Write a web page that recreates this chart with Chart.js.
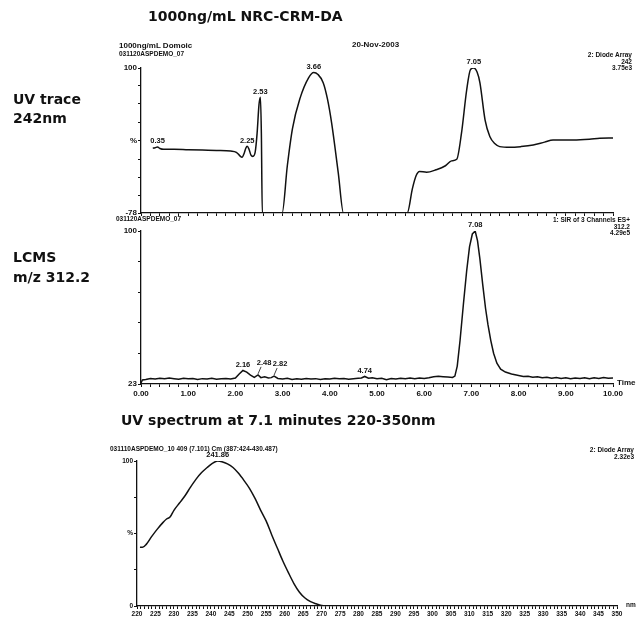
<!DOCTYPE html>
<html>
<head>
<meta charset="utf-8">
<script src="https://cdn.jsdelivr.net/npm/chart.js@4.4.1/dist/chart.umd.min.js"></script>
<style>
  body { margin: 0; background: #fff; }
  #page { position: relative; width: 638px; height: 620px; overflow: hidden; color: #111;
          font-family: "Liberation Sans", Arial, sans-serif; }
  #page canvas { position: absolute; left: 0; top: 0; }
  .t { position: absolute; white-space: nowrap; line-height: 1; }
  .big { font-family: "DejaVu Sans", sans-serif; font-weight: bold; font-size: 14px; }
  .sm { font-size: 8px; font-weight: bold; }
  .xs { font-size: 6.5px; font-weight: bold; }
  .r { text-align: right; }
</style>
</head>
<body>
<div id="page">
  <canvas id="uvTrace" width="638" height="620"></canvas>
  <canvas id="lcms" width="638" height="620"></canvas>
  <canvas id="spectrum" width="638" height="620"></canvas>

  <div class="t big" style="left:148px; top:9px;">1000ng/mL NRC-CRM-DA</div>
  <div class="t big" style="left:13px; top:92px;">UV trace</div>
  <div class="t big" style="left:13px; top:111px;">242nm</div>
  <div class="t big" style="left:13px; top:250px;">LCMS</div>
  <div class="t big" style="left:13px; top:270px;">m/z 312.2</div>
  <div class="t big" style="left:121px; top:413px;">UV spectrum at 7.1 minutes 220-350nm</div>

  <!-- header of the UV trace -->
  <div class="t sm" style="left:119px; top:42px;">1000ng/mL Domoic</div>
  <div class="t xs" style="left:119px; top:51px;">031120ASPDEMO_07</div>
  <div class="t sm" style="left:352px; top:41px;">20-Nov-2003</div>
  <div class="t xs r" style="right:6px; top:52px;">2: Diode Array<br>242<br>3.75e3</div>

  <!-- header of the LCMS trace -->
  <div class="t xs" style="left:116px; top:216px;">031120ASPDEMO_07</div>
  <div class="t xs r" style="right:8px; top:217px;">1: SIR of 3 Channels ES+<br>312.2<br>4.29e5</div>
  <div class="t sm" style="left:617px; top:379px;">Time</div>

  <!-- header of the spectrum -->
  <div class="t xs" style="left:110px; top:446px;">031110ASPDEMO_10 409 (7.101) Cm (387:424-430.487)</div>
  <div class="t xs r" style="right:4px; top:447px;">2: Diode Array<br>2.32e3</div>
  <div class="t xs" style="left:626px; top:602px;">nm</div>
</div>

<script>
// UV trace at 242 nm (time in min, % of 3.75e3)
const uvTimes = [0.25, 0.30, 0.35, 0.40, 0.48, 0.70, 1.00, 1.30, 1.60, 1.90, 2.02, 2.09, 2.14, 2.19,
    2.22, 2.25, 2.29, 2.33, 2.37, 2.42, 2.46, 2.50, 2.53, 2.55, 2.57, 2.99, 3.10, 3.21, 3.37, 3.55,
    3.66, 3.75, 3.86, 3.95, 4.04, 4.18, 4.29, 5.64, 5.75, 5.83, 5.90, 6.05, 6.25, 6.45, 6.58, 6.69,
    6.79, 6.90, 6.98, 7.05, 7.12, 7.18, 7.29, 7.39, 7.50, 7.60, 7.82, 8.05, 8.31, 8.55, 8.73, 9.16,
    9.50, 9.72, 10.00];
const uvValues = [1.5, 2.2, 3.0, 1.2, 0.2, 0.4, -0.3, -0.8, -1.2, -2.0, -3.5, -7.5, -9.5, -4,
    1.5, 4, 0, -7, -8.5, -3, 20, 55, 64, 20, -78, -78, -20, 26, 63, 88,
    94.5, 92, 82, 62, 32, -29, -78, -78, -48, -32, -27, -28, -25, -20, -14, -12,
    20, 73, 98, 100, 95, 82, 36, 16, 7, 3.5, 2.6, 3.5, 5.5, 9, 11.5, 11.6,
    12.5, 13.7, 14];
const uvPeaks = [0.35, 2.25, 2.53, 3.66, 7.05];

// LCMS SIR m/z 312.2 (time in min, % of 4.29e5)
const lcmsTimes = [0.00, 0.03, 0.10, 0.20, 0.30, 0.40, 0.50, 0.60, 0.70, 0.80, 0.90, 1.00, 1.10,
    1.20, 1.30, 1.40, 1.50, 1.60, 1.70, 1.80, 1.90, 2.00, 2.08, 2.16, 2.24, 2.32, 2.40, 2.48, 2.54,
    2.62, 2.70, 2.76, 2.82, 2.90, 3.00, 3.10, 3.20, 3.30, 3.40, 3.50, 3.60, 3.70, 3.80, 3.90, 4.00, 4.10,
    4.20, 4.30, 4.40, 4.50, 4.60, 4.67, 4.74, 4.82, 4.90, 5.00, 5.10, 5.20, 5.30, 5.40, 5.50, 5.60,
    5.70, 5.80, 5.90, 6.00, 6.10, 6.20, 6.30, 6.40, 6.50, 6.60, 6.65, 6.70, 6.76, 6.83, 6.90, 6.96,
    7.02, 7.08, 7.13, 7.18, 7.24, 7.30, 7.35, 7.41, 7.47, 7.54, 7.62, 7.72, 7.85, 8.00, 8.10, 8.20,
    8.30, 8.40, 8.50, 8.60, 8.70, 8.80, 8.90, 9.00, 9.10, 9.20, 9.30, 9.40, 9.50, 9.60, 9.70, 9.80,
    9.90, 10.00];
const lcmsValues = [23.5, 25.0, 25.3, 25.8, 25.5, 25.9, 25.6, 26.0, 25.7, 25.4, 25.9, 25.6, 25.8,
    25.3, 25.7, 25.5, 25.9, 25.4, 25.6, 25.8, 25.5, 26.0, 28.0, 29.8, 29.0, 27.5, 26.3, 27.6, 26.2,
    26.6, 26.0, 26.2, 27.0, 25.8, 25.5, 25.9, 25.3, 25.6, 25.4, 25.8, 25.5, 25.7, 25.3, 25.6, 25.5, 25.9,
    25.6, 25.8, 25.4, 25.7, 25.9, 26.0, 26.8, 25.9, 26.1, 25.6, 25.9, 25.2, 25.8, 25.5, 25.9, 25.6,
    26.0, 25.7, 26.0, 25.8, 26.1, 26.6, 26.9, 26.7, 26.5, 26.3, 27.0, 32, 45, 63, 80, 92,
    98.5, 100, 95, 86, 73, 61, 53, 45, 38.5, 33.5, 30.5, 29.0, 28.0, 27.3, 26.8, 26.9,
    26.4, 26.6, 26.1, 26.4, 25.9, 26.3, 25.8, 26.1, 25.7, 26.0, 25.8, 26.2, 25.7, 26.1, 25.8, 26.3,
    25.9, 26.0];
const lcmsPeaks = [2.16, 2.48, 2.82, 4.74, 7.08];

// UV spectrum at 7.1 min (nm, % of 2.32e3)
const nmValues = [220.8, 221.5, 222.5, 224, 225.5, 227, 228, 229, 230, 231.5, 233, 234.5, 236, 237.5,
    239, 240.5, 241.86, 243, 244.5, 246, 247.5, 249, 250.5, 252, 253.5, 255, 256.5, 258, 259.5, 261,
    262.5, 264, 265.5, 267, 268.5, 270, 271, 350];
const absValues = [40.5, 40.5, 42.5, 48, 53, 57.5, 60, 61.5, 66, 71, 76, 82, 87.5, 92,
    95.5, 98.5, 100, 99.5, 98, 95.5, 91.5, 86.5, 81, 74, 66, 58.5, 49, 40, 31, 23,
    15.5, 9.5, 5.5, 3, 1.5, 0.3, 0, 0];
const spectrumPeaks = [241.86];

// tick labels
const timeLabels = ['0.00', '1.00', '2.00', '3.00', '4.00', '5.00', '6.00', '7.00', '8.00', '9.00', '10.00'];
const nmLabels = ['220', '225', '230', '235', '240', '245', '250', '255', '260', '265', '270', '275',
    '280', '285', '290', '295', '300', '305', '310', '315', '320', '325', '330', '335', '340', '345', '350'];
const uvYTicks = [-78, -56, -34, -12, 11, 33, 56, 78, 100];
const uvYLabels = { '-78': '-78', '11': '%', '100': '100' };
const lcmsYTicks = [23, 38.4, 53.8, 69.2, 84.6, 100];
const lcmsYLabels = { '23': '23', '100': '100' };
const specYTicks = [0, 25, 50, 75, 100];
const specYLabels = { '0': '0', '50': '%', '100': '100' };

const ink = '#111';

// minor tick positions between labelled ones
const minorTicks = (labels, step) => {
    const first = parseFloat(labels[0]), last = parseFloat(labels[labels.length - 1]);
    const out = [];
    for (let v = first; v <= last + 1e-9; v += step) out.push(Math.round(v * 1000) / 1000);
    return out;
};

const peakLabels = {
    id: 'peakLabels',
    afterDatasetsDraw(chart, args, opts) {
        if (!opts.times) return;
        const { ctx, scales: { x, y } } = chart;
        const pts = chart.data.datasets[0].data;
        ctx.save();
        ctx.font = 'bold 7.5px "Liberation Sans"';
        ctx.fillStyle = ink;
        ctx.strokeStyle = ink;
        ctx.lineWidth = 0.8;
        ctx.textAlign = 'center';
        ctx.textBaseline = 'bottom';
        opts.times.forEach(t => {
            const p = pts.find(d => Math.abs(d.x - t) < 1e-6);
            if (!p) return;
            const px = x.getPixelForValue(p.x), py = y.getPixelForValue(p.y);
            const lead = opts.leaders && opts.leaders.includes(t);
            if (lead) {
                // small leader line from the peak up to its label
                ctx.beginPath();
                ctx.moveTo(px, py - 1);
                ctx.lineTo(px + 3, py - 8);
                ctx.stroke();
                ctx.fillText(t.toFixed(opts.digits), px + 6, py - 8);
            } else {
                ctx.fillText(t.toFixed(opts.digits), px, py - 2);
            }
        });
        ctx.restore();
    }
};

const makePanel = (id, area, xs, ys, cfg) => {
    const ctx = document.getElementById(id).getContext('2d');
    const font = { family: 'Liberation Sans', size: cfg.tickSize, weight: 'bold' };
    return new Chart(ctx, {
        type: 'line',
        data: {
            datasets: [{
                data: xs.map((x, i) => ({ x: x, y: ys[i] })),
                borderColor: ink,
                borderWidth: 1.5,
                pointRadius: 0,
                cubicInterpolationMode: cfg.mode,
                tension: cfg.tension
            }]
        },
        options: {
            responsive: false,
            animation: false,
            events: [],
            layout: {
                padding: { left: 0, top: area.top, right: 638 - area.right, bottom: 620 - area.bottom - area.xh }
            },
            plugins: {
                legend: { display: false },
                tooltip: { enabled: false },
                peakLabels: cfg.peaks
            },
            scales: {
                x: {
                    type: 'linear',
                    min: cfg.xMin,
                    max: cfg.xMax,
                    afterFit: s => { s.height = area.xh; },
                    afterBuildTicks: s => { s.ticks = cfg.xTicks.map(v => ({ value: v })); },
                    ticks: {
                        autoSkip: false,
                        maxRotation: 0,
                        padding: cfg.xPad,
                        font: font,
                        color: ink,
                        callback: v => {
                            if (!cfg.xLabels) return '';
                            const lab = cfg.xLabels.find(l => Math.abs(parseFloat(l) - v) < 1e-6);
                            return lab || '';
                        }
                    },
                    grid: { drawOnChartArea: false, tickLength: 3, color: ink },
                    border: { color: ink, width: 1.3 }
                },
                y: {
                    min: cfg.yMin,
                    max: cfg.yMax,
                    afterFit: s => { s.width = area.left; },
                    afterBuildTicks: s => { s.ticks = cfg.yTicks.map(v => ({ value: v })); },
                    ticks: {
                        padding: 1,
                        font: font,
                        color: ink,
                        callback: v => cfg.yLabels[String(v)] || ''
                    },
                    grid: { drawOnChartArea: false, tickLength: 3, color: ink },
                    border: { color: ink, width: 1.3 }
                }
            }
        },
        plugins: [peakLabels]
    });
};

const timeTicks = minorTicks(timeLabels, 0.2);

makePanel('uvTrace', { left: 141, right: 613, top: 68, bottom: 213, xh: 6 }, uvTimes, uvValues, {
    mode: 'monotone', tension: 0.4, xMin: 0, xMax: 10, xTicks: timeTicks, xLabels: null, xPad: 1,
    yMin: -78, yMax: 100, yTicks: uvYTicks, yLabels: uvYLabels, tickSize: 8,
    peaks: { times: uvPeaks, digits: 2 }
});

makePanel('lcms', { left: 141, right: 613, top: 231, bottom: 384, xh: 16 }, lcmsTimes, lcmsValues, {
    mode: 'default', tension: 0, xMin: 0, xMax: 10, xTicks: timeTicks, xLabels: timeLabels, xPad: 2,
    yMin: 23, yMax: 100, yTicks: lcmsYTicks, yLabels: lcmsYLabels, tickSize: 8,
    peaks: { times: lcmsPeaks, digits: 2, leaders: [2.48, 2.82] }
});

makePanel('spectrum', { left: 137, right: 617, top: 461, bottom: 606, xh: 13 }, nmValues, absValues, {
    mode: 'monotone', tension: 0.4, xMin: 220, xMax: 350, xTicks: minorTicks(nmLabels, 1), xLabels: nmLabels, xPad: 1,
    yMin: 0, yMax: 100, yTicks: specYTicks, yLabels: specYLabels, tickSize: 6.5,
    peaks: { times: spectrumPeaks, digits: 2 }
});
</script>
</body>
</html>
